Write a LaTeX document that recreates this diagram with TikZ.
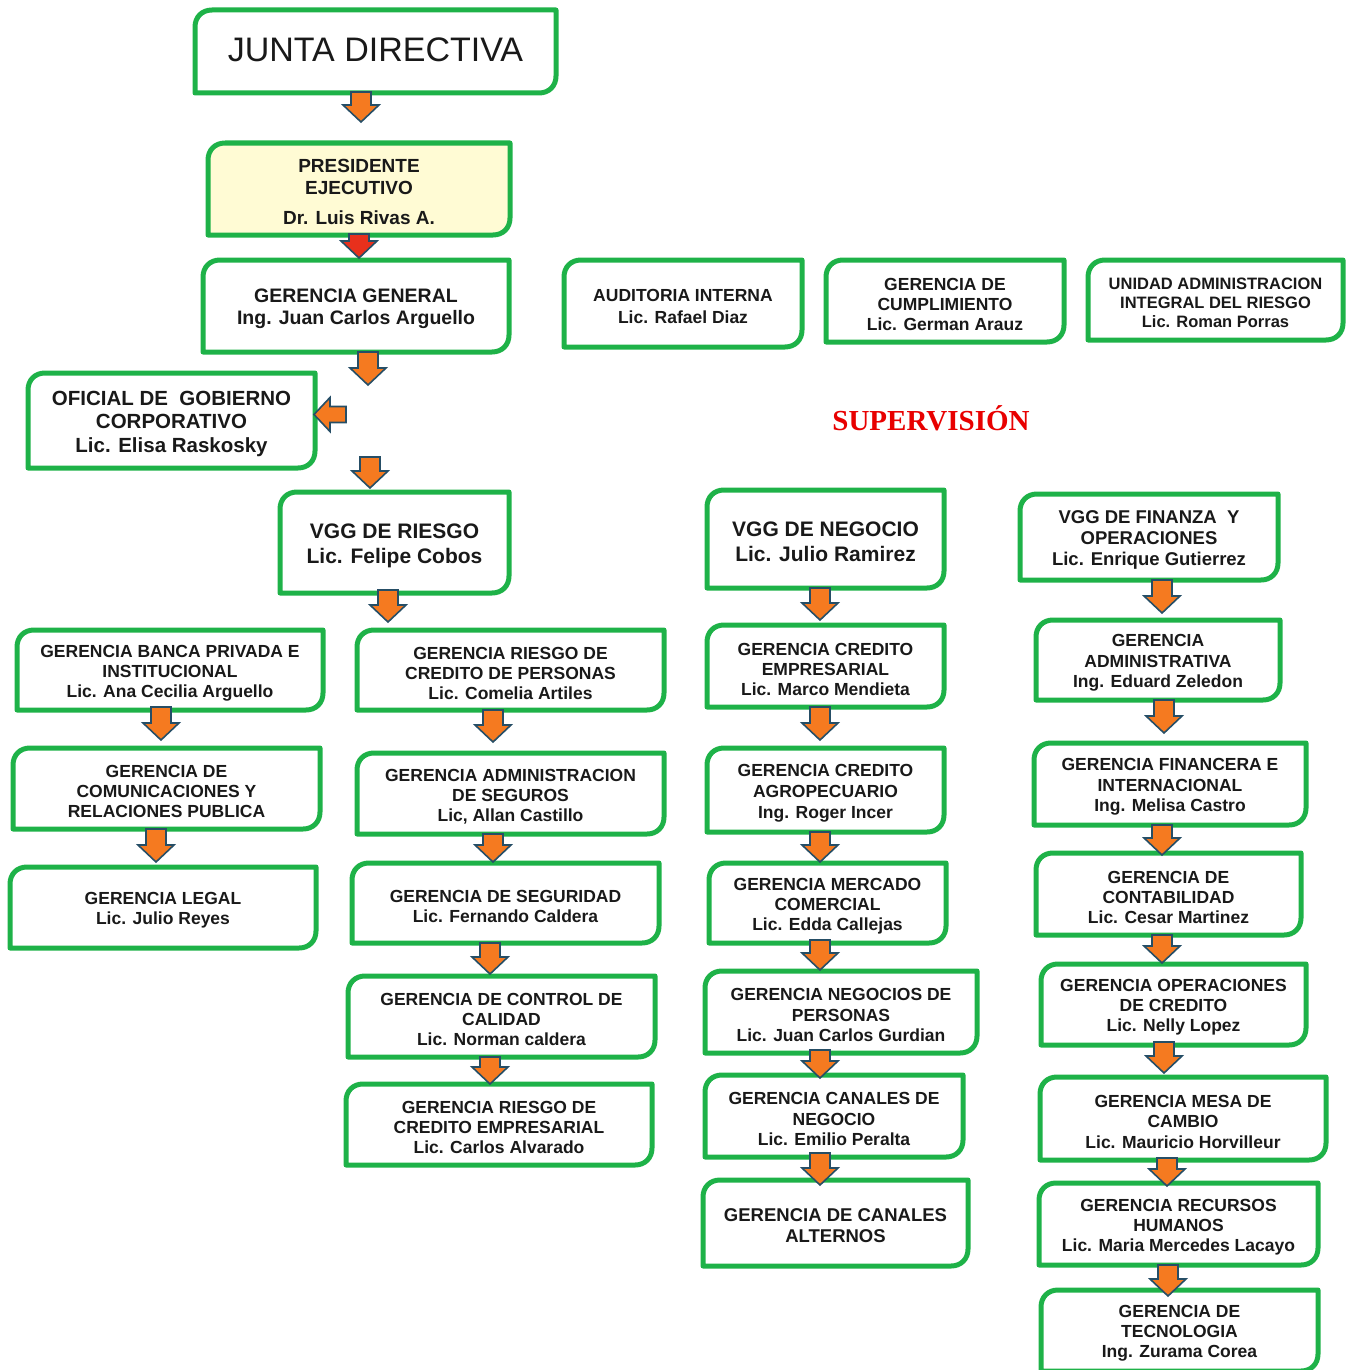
\documentclass[tikz,border=0pt]{standalone}
\usepackage{fontspec}
\setmainfont{Liberation Sans}
\newfontfamily\titleserif{Liberation Serif}
\usetikzlibrary{calc}

\definecolor{boxgreen}{RGB}{30,178,72}
\definecolor{arrfill}{RGB}{245,122,32}
\definecolor{arrred}{RGB}{232,48,28}
\definecolor{arredge}{RGB}{38,78,102}
\definecolor{presfill}{RGB}{255,251,212}
\definecolor{textdark}{RGB}{25,25,25}
\definecolor{supred}{RGB}{232,0,0}

\tikzset{
  boxframe/.style={inner sep=0pt, outer sep=0pt},
  boxline/.style={draw=boxgreen, line width=5pt, line join=round},
  boxtext/.style={align=center, inner sep=0pt, text=textdark, yshift=-3pt},
  fs/.style 2 args={font=\bfseries\fontsize{#1}{#2}\selectfont},
  arrowbody/.style={draw=arredge, line width=1.6pt, line join=miter},
}

% box: [extra path options]{name}{left}{top}{right}{bottom}{text options}{text}
% top-left and bottom-right corners rounded, the other two square
\newcommand\orgbox[8][]{%
  \node[boxframe, minimum width={(#5-#3)*1pt}, minimum height={(#6-#4)*1pt}]
    (#2) at ({(#3+#5)/2},{(#4+#6)/2}) {};
  \path[boxline,#1] (#2.south west) -- ([yshift=-17pt]#2.north west)
    .. controls ([yshift=-7pt]#2.north west) and ([xshift=7pt]#2.north west) .. ([xshift=17pt]#2.north west)
    -- (#2.north east) -- ([yshift=17pt]#2.south east)
    .. controls ([yshift=7pt]#2.south east) and ([xshift=-7pt]#2.south east) .. ([xshift=-17pt]#2.south east) -- cycle;
  \node[boxtext, #7] (#2-text) at (#2.center) {#8};
}

% downward block arrow: [fill]{tail point}{length}
\newcommand\downarr[3][arrfill]{%
  \draw[arrowbody, fill=#1]
    ($(#2)+(-10,0)$) -- ($(#2)+(-10,{#3-17})$) -- ($(#2)+(-18,{#3-17})$)
    -- ($(#2)+(0,#3)$) -- ($(#2)+(18,{#3-17})$) -- ($(#2)+(10,{#3-17})$)
    -- ($(#2)+(10,0)$) -- cycle;
}
% arrow from the bottom of node #1, shifted by #2, of length #3
\newcommand\link[3]{\downarr{$(#1.south)+(#2)$}{#3}}

\begin{document}
\begin{tikzpicture}[x=1pt, y=-1pt]
\useasboundingbox (0,0) rectangle (1345,1370);

% top of the chart
\orgbox{junta}{195}{10}{556}{93}{font=\fontsize{34}{40}\selectfont, yshift=5pt}{JUNTA DIRECTIVA}
\orgbox[fill=presfill]{pres}{208}{143}{510}{235}{fs={19}{22}}{PRESIDENTE\\EJECUTIVO\\[8pt]Dr. Luis Rivas A.}
\orgbox{gg}{203}{260}{509}{352}{fs={19.5}{22}}{GERENCIA GENERAL\\Ing. Juan Carlos Arguello}
\orgbox{aud}{564}{260}{802}{347}{fs={17.5}{22}}{AUDITORIA INTERNA\\Lic. Rafael Diaz}
\orgbox{cump}{826}{260}{1064}{342}{fs={17.5}{20}}{GERENCIA DE\\CUMPLIMIENTO\\Lic. German Arauz}
\orgbox{uair}{1088}{260}{1343}{340}{fs={16.5}{19}}{UNIDAD ADMINISTRACION\\INTEGRAL DEL RIESGO\\Lic. Roman Porras}
\orgbox{ofi}{28}{373}{315}{468}{fs={20.5}{23.5}}{OFICIAL DE\ \ GOBIERNO\\CORPORATIVO\\Lic. Elisa Raskosky}

\node[font=\titleserif\bfseries\fontsize{29}{34}\selectfont, text=supred, inner sep=0pt] (sup) at (931,418) {SUPERVISIÓN};

% vice-presidencies
\orgbox{vgr}{280}{492}{509}{593}{fs={21}{25}}{VGG DE RIESGO\\Lic. Felipe Cobos}
\orgbox{vgn}{707}{490}{944}{588}{fs={21}{25}}{VGG DE NEGOCIO\\Lic. Julio Ramirez}
\orgbox{vgf}{1020}{494}{1278}{580}{fs={18.5}{21}}{VGG DE FINANZA\ \ Y\\OPERACIONES\\Lic. Enrique Gutierrez}

% first column
\orgbox{banca}{17}{630}{323}{710}{fs={17.5}{20}}{GERENCIA BANCA PRIVADA E\\INSTITUCIONAL\\Lic. Ana Cecilia Arguello}
\orgbox{comu}{13}{748}{320}{829}{fs={17.5}{20}}{GERENCIA DE\\COMUNICACIONES Y\\RELACIONES PUBLICA}
\orgbox{legal}{10}{867}{316}{948}{fs={17.5}{20}}{GERENCIA LEGAL\\Lic. Julio Reyes}

% second column
\orgbox{rcp}{357}{630}{664}{710}{fs={17.5}{20}}{GERENCIA RIESGO DE\\CREDITO DE PERSONAS\\Lic. Comelia Artiles}
\orgbox{seg}{357}{753}{664}{834}{fs={17.5}{20}}{GERENCIA ADMINISTRACION\\DE SEGUROS\\Lic, Allan Castillo}
\orgbox{segu}{352}{863}{659}{943}{fs={17.5}{20}}{GERENCIA DE SEGURIDAD\\Lic. Fernando Caldera}
\orgbox{cal}{348}{976}{655}{1057}{fs={17.5}{20}}{GERENCIA DE CONTROL DE\\CALIDAD\\Lic. Norman caldera}
\orgbox{rce}{346}{1084}{652}{1165}{fs={17.5}{20}}{GERENCIA RIESGO DE\\CREDITO EMPRESARIAL\\Lic. Carlos Alvarado}

% third column
\orgbox{ce}{707}{625}{944}{707}{fs={17.5}{20}}{GERENCIA CREDITO\\EMPRESARIAL\\Lic. Marco Mendieta}
\orgbox{ca}{707}{748}{944}{832}{fs={17.5}{21}}{GERENCIA CREDITO\\AGROPECUARIO\\Ing. Roger Incer}
\orgbox{mc}{709}{863}{946}{943}{fs={17.5}{20}}{GERENCIA MERCADO\\COMERCIAL\\Lic. Edda Callejas}
\orgbox{np}{705}{971}{977}{1053}{fs={17.5}{20.5}}{GERENCIA NEGOCIOS DE\\PERSONAS\\Lic. Juan Carlos Gurdian}
\orgbox{cn}{705}{1075}{963}{1157}{fs={17.5}{20.5}}{GERENCIA CANALES DE\\NEGOCIO\\Lic. Emilio Peralta}
\orgbox{calt}{703}{1180}{968}{1266}{fs={18.5}{21}}{GERENCIA DE CANALES\\ALTERNOS}

% fourth column
\orgbox{adm}{1036}{620}{1280}{700}{fs={17.5}{20.5}}{GERENCIA\\ADMINISTRATIVA\\Ing. Eduard Zeledon}
\orgbox{fin}{1034}{743}{1306}{825}{fs={17.5}{20.5}}{GERENCIA FINANCERA E\\INTERNACIONAL\\Ing. Melisa Castro}
\orgbox{cont}{1036}{853}{1301}{935}{fs={17.5}{20}}{GERENCIA DE\\CONTABILIDAD\\Lic. Cesar Martinez}
\orgbox{opc}{1041}{964}{1306}{1045}{fs={17.5}{20}}{GERENCIA OPERACIONES\\DE CREDITO\\Lic. Nelly Lopez}
\orgbox{mesa}{1040}{1077}{1326}{1160}{fs={17.5}{20.5}}{GERENCIA MESA DE\\CAMBIO\\Lic. Mauricio Horvilleur}
\orgbox{rrhh}{1039}{1183}{1318}{1265}{fs={17.5}{20}}{GERENCIA RECURSOS\\HUMANOS\\Lic. Maria Mercedes Lacayo}
\orgbox{tec}{1041}{1290}{1318}{1371}{fs={17.5}{20}}{GERENCIA DE\\TECNOLOGIA\\Ing. Zurama Corea}

% arrows of the main line
\link{junta}{-14.5,-1}{30}
\downarr[arrred]{$(pres.south)+(0,-1)$}{24}
\link{gg}{12,0}{33}
\coordinate (vgrin) at ($(vgr.north)+(-24.5,-35)$);
\downarr{vgrin}{31}
% arrow pointing left to the corporate governance officer
\coordinate (ofitip) at ($(ofi.east)+(-1,-6)$);
\draw[arrowbody, fill=arrfill]
  (ofitip) -- ($(ofitip)+(16,-17)$) -- ($(ofitip)+(16,-8)$) -- ($(ofitip)+(32,-8)$)
  -- ($(ofitip)+(32,8)$) -- ($(ofitip)+(16,8)$) -- ($(ofitip)+(16,17)$) -- cycle;

% arrows in the columns
\link{vgr}{-6.5,-3}{32}
\link{banca}{-9,-3}{33}
\link{comu}{-10.5,0}{33}
\link{rcp}{-17.5,0}{32}
\link{seg}{-17.5,0}{28}
\link{segu}{-15.5,0}{31}
\link{cal}{-11.5,0}{27}

\link{vgn}{-5.5,0}{32}
\link{ce}{-5.5,0}{33}
\link{ca}{-5.5,0}{30}
\link{mc}{-7.5,-3}{30}
\link{np}{-21,-3}{28}
\link{cn}{-14,-4}{32}

\link{vgf}{13,0}{33}
\link{adm}{6,0}{33}
\link{fin}{-8,0}{30}
\link{cont}{-6.5,0}{28}
\link{opc}{-9.5,-3}{31}
\link{mesa}{-16,-2}{28}
\link{rrhh}{-10.5,0}{31}

\end{tikzpicture}
\end{document}
